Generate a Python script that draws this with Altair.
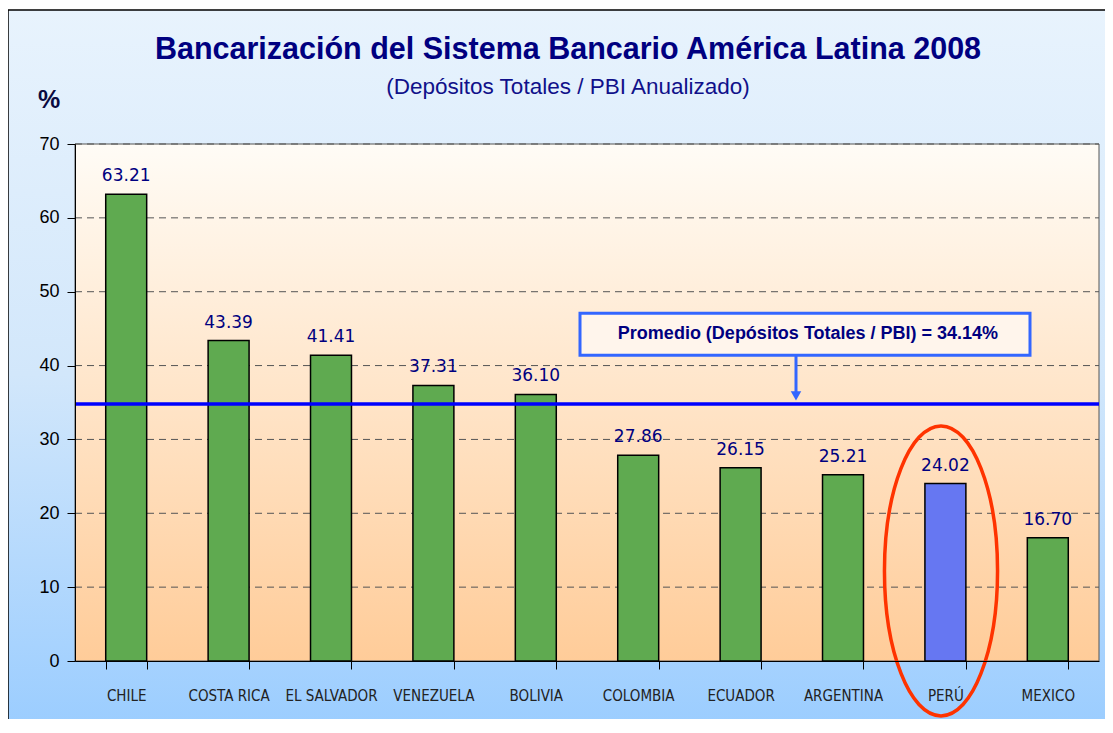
import altair as alt
import pandas as pd

countries = ["CHILE", "COSTA RICA", "EL SALVADOR", "VENEZUELA", "BOLIVIA",
             "COLOMBIA", "ECUADOR", "ARGENTINA", "PERÚ", "MEXICO"]
values = [63.21, 43.39, 41.41, 37.31, 36.10, 27.86, 26.15, 25.21, 24.02, 16.70]
highlight = [False, False, False, False, False, False, False, False, True, False]
y_ticks = [0, 10, 20, 30, 40, 50, 60, 70]
avg_line = 34.8
avg_text = "Promedio (Depósitos Totales / PBI) = 34.14%"
title_text = "Bancarización del Sistema Bancario América Latina 2008"
subtitle_text = "(Depósitos Totales / PBI Anualizado)"

W, H = 1024, 517
PL, PT, PR, PB = 67, 136, 6, 58

df = pd.DataFrame({"country": countries, "value": values, "peru": highlight,
                   "label": [f"{v:.2f}" for v in values]})
grid_df = pd.DataFrame({"v": y_ticks[1:]})

xsc = alt.Scale(domain=countries, paddingInner=0.6, paddingOuter=0.3)
ysc = alt.Scale(domain=[0, 70], nice=False, zero=True)
x_enc = alt.X("country:N", scale=xsc, sort=countries, title=None,
              axis=alt.Axis(labelAngle=0, labelFont="DejaVu Sans Condensed", labelFontSize=15,
                            labelColor="#222222", labelPadding=19, tickSize=8, tickColor="black",
                            domainColor="black", tickBand="extent", grid=False, zindex=1))
y_enc = alt.Y("value:Q", scale=ysc, title=None,
              axis=alt.Axis(values=y_ticks, labelFont="Liberation Sans", labelFontSize=18,
                            labelColor="black", tickSize=8, tickColor="black", domainColor="black",
                            labelPadding=8, grid=False, zindex=1))

outer_bg = alt.Chart(pd.DataFrame({"a": [0]})).mark_rect(
    fill=alt.LinearGradient(gradient="linear", x1=0, x2=0, y1=0, y2=1,
                            stops=[alt.GradientStop(offset=0, color="#E8F3FD"),
                                   alt.GradientStop(offset=0.5, color="#D2E7FB"),
                                   alt.GradientStop(offset=1, color="#99CCFF")]),
    stroke="black", strokeWidth=1.5, clip=False
).encode(x=alt.value(-PL), x2=alt.value(W + PR + 20), y=alt.value(-PT + 2), y2=alt.value(H + PB + 20))

plot_bg = alt.Chart(pd.DataFrame({"a": [0]})).mark_rect(
    fill=alt.LinearGradient(gradient="linear", x1=0, x2=0, y1=0, y2=1,
                            stops=[alt.GradientStop(offset=0, color="#FFFCF6"),
                                   alt.GradientStop(offset=1, color="#FFCC99")]),
    stroke="#555555", strokeWidth=1
).encode(x=alt.value(0), x2=alt.value(W), y=alt.value(0), y2=alt.value(H))

grid = alt.Chart(grid_df).mark_rule(color="#555555", strokeDash=[7, 5], strokeWidth=1).encode(
    y=alt.Y("v:Q", scale=ysc), x=alt.value(0), x2=alt.value(W))

bars = alt.Chart(df).mark_bar(stroke="black", strokeWidth=1.5).encode(
    x=x_enc, y=y_enc,
    color=alt.Color("peru:N", scale=alt.Scale(domain=[False, True], range=["#5FAA50", "#6677F2"]),
                    legend=None))

labels = alt.Chart(df).mark_text(font="DejaVu Sans", fontSize=17, color="#000080",
                                 baseline="bottom", dy=-9).encode(
    x=alt.X("country:N", scale=xsc, sort=countries), y=alt.Y("value:Q", scale=ysc), text="label:N")

avg = alt.Chart(pd.DataFrame({"v": [avg_line]})).mark_rule(color="#0000FF", strokeWidth=3.5).encode(
    y=alt.Y("v:Q", scale=ysc), x=alt.value(0), x2=alt.value(W))

box = alt.Chart(pd.DataFrame({"y1": [41.4], "y2": [47.1]})).mark_rect(
    fill="#FFF5EC", stroke="#3366FF", strokeWidth=3).encode(
    x=alt.value(505), x2=alt.value(955), y=alt.Y("y1:Q", scale=ysc), y2="y2:Q")

box_text = alt.Chart(pd.DataFrame({"y": [44.25], "t": [avg_text]})).mark_text(
    font="Liberation Sans", fontSize=18, fontWeight="bold", color="#000080").encode(
    x=alt.value(733), y=alt.Y("y:Q", scale=ysc), text="t:N")

arrow_line = alt.Chart(pd.DataFrame({"y1": [35.9], "y2": [41.3]})).mark_rule(
    color="#3366FF", strokeWidth=3).encode(
    x=alt.value(721), y=alt.Y("y1:Q", scale=ysc), y2="y2:Q")

arrow_head = alt.Chart(pd.DataFrame({"y": [35.9]})).mark_point(
    shape="triangle-down", filled=True, color="#3366FF", size=110, opacity=1).encode(
    x=alt.value(721), y=alt.Y("y:Q", scale=ysc))

ellipse = alt.Chart(pd.DataFrame({"y": [12.2]})).mark_point(
    shape="M -0.39 0 A 0.39 1 0 1 0 0.39 0 A 0.39 1 0 1 0 -0.39 0",
    filled=False, stroke="#FF3300", strokeWidth=3.5, size=84100, opacity=1).encode(
    x=alt.value(866), y=alt.Y("y:Q", scale=ysc))

title = alt.Chart(pd.DataFrame({"t": [title_text]})).mark_text(
    font="Liberation Sans", fontSize=30.5, fontWeight="bold", color="#000080").encode(
    x=alt.value(493), y=alt.value(-94), text="t:N")
subtitle = alt.Chart(pd.DataFrame({"t": [subtitle_text]})).mark_text(
    font="Liberation Sans", fontSize=22.5, color="#10108A").encode(
    x=alt.value(493), y=alt.value(-57), text="t:N")
pct = alt.Chart(pd.DataFrame({"t": ["%"]})).mark_text(
    font="Liberation Sans", fontSize=25, fontWeight="bold", color="#0A0A40").encode(
    x=alt.value(-26), y=alt.value(-44), text="t:N")

chart = alt.layer(outer_bg, plot_bg, grid, bars, labels, avg, arrow_line, arrow_head, box, box_text,
                  ellipse, title, subtitle, pct).properties(
    width=W, height=H,
    autosize=alt.AutoSizeParams(type="none"),
    padding={"left": PL, "top": PT, "right": PR, "bottom": PB},
).configure_view(stroke=None).configure(background="white")

chart.save("out.html", embed_options={"renderer": "svg", "actions": False})
